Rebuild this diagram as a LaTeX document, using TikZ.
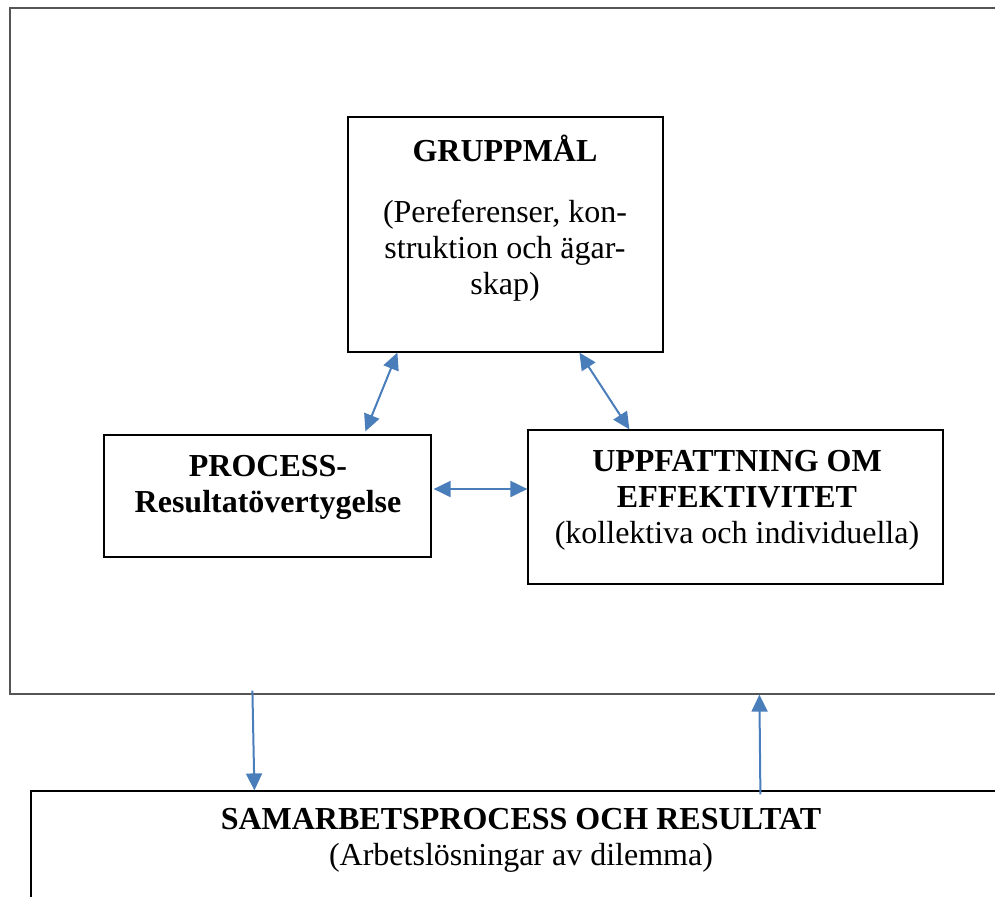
\documentclass[tikz,border=0pt]{standalone}
\usepackage{fontspec}
\setmainfont{Liberation Serif}
\usetikzlibrary{arrows.meta,positioning,calc}
\definecolor{pilblue}{RGB}{74,126,187}
\definecolor{ramgray}{RGB}{85,85,85}
\tikzset{
    %Define standard arrow tip
    >={Triangle[length=8.5pt,width=8pt]},
    %Define style for boxes
    ruta/.style={
           rectangle,
           draw=black, line width=0.6pt,
           inner sep=0pt},
    ram/.style={
           rectangle,
           draw=ramgray, line width=0.6pt,
           inner sep=0pt},
    rutatext/.style={
           align=center,
           inner sep=0pt,
           font=\fontsize{16}{18}\selectfont},
    % Define arrow style
    pil/.style={
           color=pilblue,
           line width=1pt}
}

\begin{document}
\begin{tikzpicture}[x=0.5pt,y=-0.5pt]
\useasboundingbox (0,0) rectangle (995,896);
\clip (0,0) rectangle (995,896);
% frame and bottom box run past the page edge
\node[ram, minimum width=500pt, minimum height=343pt](ramme) at (510,351){};
\node[ruta, minimum width=490pt, minimum height=100pt](samarbete) at (521,891){};
\node[rutatext](samtext) at (521,840){\textbf{SAMARBETSPROCESS OCH RESULTAT}\\(Arbetslösningar av dilemma)};
% the three inner boxes
\node[ruta, minimum width=157.5pt, minimum height=117.5pt](mal) at (505.5,234.5){};
\node[rutatext](maltitel) at (505,148){\textbf{GRUPPMÅL}};
\node[rutatext](maltext) at (505,251){(Pereferenser, kon-\\struktion och ägar-\\skap)};
\node[ruta, minimum width=163.5pt, minimum height=61pt](process) at (267.5,496){};
\node[rutatext](processtext) at (268,487){\textbf{PROCESS-}\\\textbf{Resultatövertygelse}};
\node[ruta, minimum width=207.5pt, minimum height=77pt](uppf) at (735.5,507){};
\node[rutatext](uppftext) at (737,500){\textbf{UPPFATTNING OM}\\\textbf{EFFEKTIVITET}\\(kollektiva och individuella)};
\draw[pil, <->] ($(mal.south west)+(50,0)$) -- ($(process.north west)+(262,-3)$);
\draw[pil, <->] ($(mal.south west)+(232,0)$) -- ($(uppf.north west)+(102,0)$);
\draw[pil, <->] ($(process.east)+(2,-7)$) -- ($(uppf.west)+(0,-18)$);
\draw[pil, ->] ($(ramme.south west)+(243,-4)$) -- ($(samarbete.north west)+(224,0)$);
\draw[pil, ->] ($(samarbete.north west)+(730,4)$) -- ($(ramme.south west)+(750,0)$);
\end{tikzpicture}
\end{document}
